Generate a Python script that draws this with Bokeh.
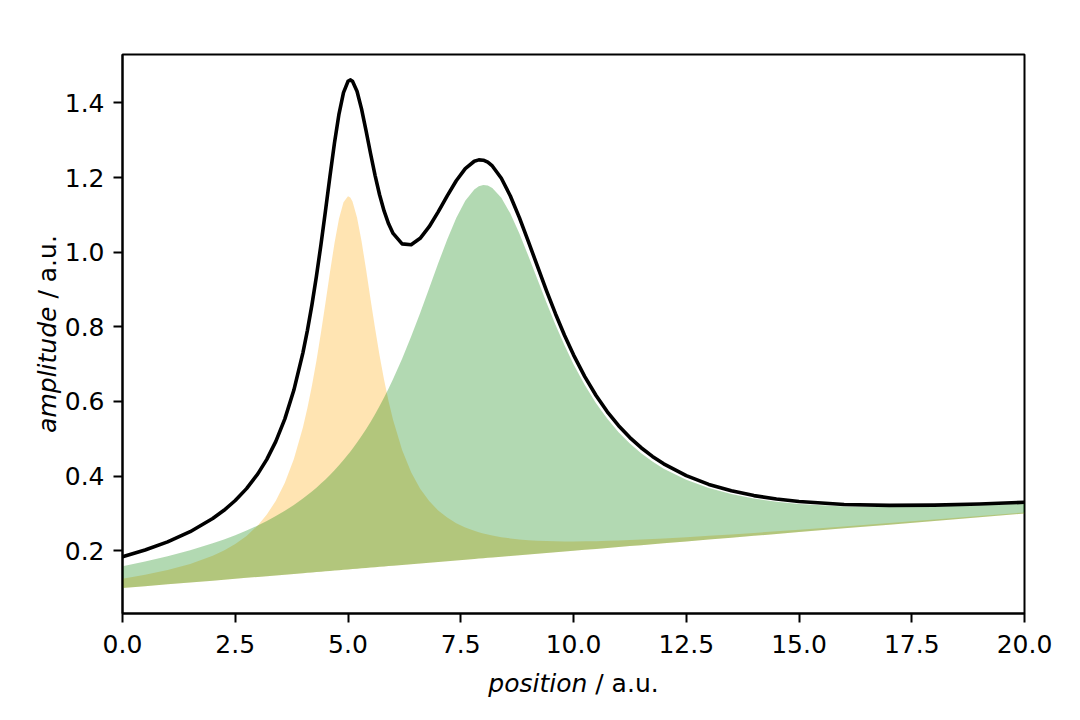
import math
from bokeh.plotting import figure
from bokeh.models import Range1d, FixedTicker, NumeralTickFormatter, Label
from bokeh.embed import file_html
from bokeh.resources import INLINE

# positions (a.u.)
position = [0, 0.5, 1, 1.5, 2, 2.25, 2.5, 2.75, 3, 3.2, 3.4, 3.6, 3.8,
            4.0, 4.1, 4.2, 4.3, 4.4, 4.5, 4.6, 4.7, 4.8, 4.9, 5.0, 5.05, 5.1, 5.2, 5.3, 5.4,
            5.5, 5.6, 5.7, 5.8, 5.9, 6.0, 6.2, 6.4, 6.6, 6.8, 7.0, 7.2, 7.4, 7.6, 7.8, 7.9,
            8.0, 8.1, 8.2, 8.4, 8.6, 8.8, 9.0, 9.2, 9.4, 9.6, 9.8, 10.0, 10.25, 10.5, 10.75,
            11.0, 11.25, 11.5, 11.75, 12, 12.5, 13, 13.5, 14, 14.5, 15, 16, 17, 18, 19, 20]

# linear background
background = [0.1, 0.105, 0.11, 0.115, 0.12, 0.1225, 0.125, 0.1275, 0.13, 0.132, 0.134, 0.136,
              0.138, 0.14, 0.141, 0.142, 0.143, 0.144, 0.145, 0.146, 0.147, 0.148, 0.149, 0.15,
              0.1505, 0.151, 0.152, 0.153, 0.154, 0.155, 0.156, 0.157, 0.158, 0.159, 0.16,
              0.162, 0.164, 0.166, 0.168, 0.17, 0.172, 0.174, 0.176, 0.178, 0.179, 0.18, 0.181,
              0.182, 0.184, 0.186, 0.188, 0.19, 0.192, 0.194, 0.196, 0.198, 0.2, 0.2025, 0.205,
              0.2075, 0.21, 0.2125, 0.215, 0.2175, 0.22, 0.225, 0.23, 0.235, 0.24, 0.245, 0.25,
              0.26, 0.27, 0.28, 0.29, 0.3]

# upper edge of the orange peak (background + peak 1)
orange_top = [0.125, 0.1356, 0.1485, 0.1647, 0.1864, 0.2005, 0.2179, 0.2397, 0.2679, 0.297,
              0.334, 0.3822, 0.4458, 0.5302, 0.5824, 0.642, 0.7094, 0.784, 0.8641, 0.946,
              1.0237, 1.0892, 1.1336, 1.15, 1.1466, 1.1356, 1.0932, 1.0297, 0.954, 0.8741,
              0.796, 0.7234, 0.658, 0.6004, 0.5502, 0.4697, 0.4102, 0.366, 0.333, 0.3079,
              0.2888, 0.274, 0.2625, 0.2535, 0.2497, 0.2464, 0.2434, 0.2408, 0.2365, 0.2331,
              0.2304, 0.2285, 0.227, 0.226, 0.2254, 0.225, 0.225, 0.2252, 0.2257, 0.2265,
              0.2275, 0.2286, 0.2299, 0.2314, 0.2329, 0.2363, 0.2399, 0.2438, 0.2478, 0.252,
              0.2564, 0.2653, 0.2744, 0.2838, 0.2933, 0.3028]

# upper edge of the green peak (background + peak 2)
green_top = [0.1588, 0.1714, 0.1855, 0.2015, 0.22, 0.2304, 0.2418, 0.2542, 0.2679, 0.2799,
             0.293, 0.3072, 0.3228, 0.34, 0.3492, 0.3589, 0.3691, 0.3799, 0.3912, 0.4031,
             0.4156, 0.4289, 0.4429, 0.4577, 0.4654, 0.4733, 0.4898, 0.5073, 0.5258, 0.5452,
             0.5658, 0.5876, 0.6105, 0.6346, 0.66, 0.7145, 0.7738, 0.8371, 0.9033, 0.97,
             1.0341, 1.0914, 1.1375, 1.1681, 1.1765, 1.18, 1.1785, 1.1721, 1.1455, 1.1034,
             1.0501, 0.99, 0.9273, 0.8651, 0.8058, 0.7505, 0.7, 0.6439, 0.5952, 0.5535,
             0.5177, 0.4872, 0.4612, 0.439, 0.42, 0.39, 0.3679, 0.3518, 0.34, 0.3315, 0.3255,
             0.3188, 0.3171, 0.3185, 0.322, 0.327]

# total signal (black line)
total = [0.1838, 0.202, 0.2239, 0.2511, 0.2864, 0.3084, 0.3347, 0.3665, 0.4059, 0.4449,
         0.493, 0.5534, 0.6305, 0.7302, 0.7906, 0.8589, 0.9355, 1.0199, 1.1103, 1.2031,
         1.2924, 1.3701, 1.4275, 1.4577, 1.4615, 1.4579, 1.431, 1.384, 1.3258, 1.2643,
         1.2058, 1.1539, 1.1105, 1.076, 1.0502, 1.0222, 1.0199, 1.0371, 1.0682, 1.1079,
         1.1509, 1.1914, 1.224, 1.2436, 1.2472, 1.2464, 1.241, 1.2309, 1.198, 1.1505,
         1.0925, 1.0285, 0.9623, 0.8971, 0.8351, 0.7775, 0.725, 0.6666, 0.616, 0.5724,
         0.5352, 0.5033, 0.4761, 0.4528, 0.4329, 0.4012, 0.3778, 0.3606, 0.3478, 0.3385,
         0.3318, 0.3241, 0.3215, 0.3222, 0.3252, 0.3299]

x_ticks = [0, 2.5, 5, 7.5, 10, 12.5, 15, 17.5, 20]
y_ticks = [0.2, 0.4, 0.6, 0.8, 1.0, 1.2, 1.4]

W, H = 1064, 704
BL, BR, BT, BB = 122, 40, 54, 91
FW, FH = W - BL - BR, H - BT - BB

lo, hi = min(background), max(total)
pad = 0.05 * (hi - lo)
y0, y1 = lo - pad, hi + pad
x0, x1 = 0, 20
xs = (x1 - x0) / FW
ys = (y1 - y0) / FH

p = figure(width=W, height=H, output_backend="svg", toolbar_location=None,
           x_range=Range1d(x0, x1), y_range=Range1d(y0, y1),
           min_border_left=BL, min_border_right=BR, min_border_top=BT, min_border_bottom=BB)

p.varea(x=position, y1=background, y2=orange_top, fill_color="orange", fill_alpha=0.3)
p.varea(x=position, y1=background, y2=green_top, fill_color="green", fill_alpha=0.3)
p.line(position, total, line_color="black", line_width=3.6, line_join="round")

p.grid.visible = False
p.outline_line_color = "black"
p.outline_line_width = 2
p.outline_line_alpha = 1
p.background_fill_color = "white"
p.border_fill_color = "white"

for ax in (p.xaxis[0], p.yaxis[0]):
    ax.axis_line_color = "black"
    ax.axis_line_width = 2
    ax.major_tick_line_color = "black"
    ax.major_tick_line_width = 2
    ax.major_tick_out = 9
    ax.major_tick_in = 0
    ax.minor_tick_line_color = None
    ax.major_label_text_font = "DejaVu Sans"
    ax.major_label_text_font_size = "25px"
    ax.major_label_text_color = "black"
    ax.formatter = NumeralTickFormatter(format="0.0")

p.xaxis[0].ticker = FixedTicker(ticks=x_ticks)
p.yaxis[0].ticker = FixedTicker(ticks=y_ticks)
p.xaxis[0].major_label_standoff = 12
p.yaxis[0].major_label_standoff = 9

FONT = "DejaVu Sans"
FS = "25px"
xc = (x0 + x1) / 2
yc = (y0 + y1) / 2

# axis titles: each part sits in its own side panel (so it is not clipped to the frame)
# and is positioned through the frame's scales.
xl_y = y0 - 70.3 * ys
p.add_layout(Label(x=xc + 13.8 * xs, y=xl_y, text="position", text_font=FONT,
                   text_font_size=FS, text_font_style="italic", text_align="right",
                   text_baseline="alphabetic", text_color="black"), "below")
p.add_layout(Label(x=xc + 21.75 * xs, y=xl_y, text="/ a.u.", text_font=FONT,
                   text_font_size=FS, text_align="left", text_baseline="alphabetic",
                   text_color="black"), "above")

yl_x = x0 - 75.5 * xs
p.add_layout(Label(x=yl_x, y=yc - 98.9 * ys, text="amplitude", text_font=FONT,
                   text_font_size=FS, text_font_style="italic", text_align="left",
                   text_baseline="alphabetic", angle=math.pi / 2, text_color="black"), "left")
p.add_layout(Label(x=yl_x, y=yc + 35.4 * ys, text="/ a.u.", text_font=FONT,
                   text_font_size=FS, text_align="left", text_baseline="alphabetic",
                   angle=math.pi / 2, text_color="black"), "right")

open("out.html", "w").write(file_html(p, INLINE))
